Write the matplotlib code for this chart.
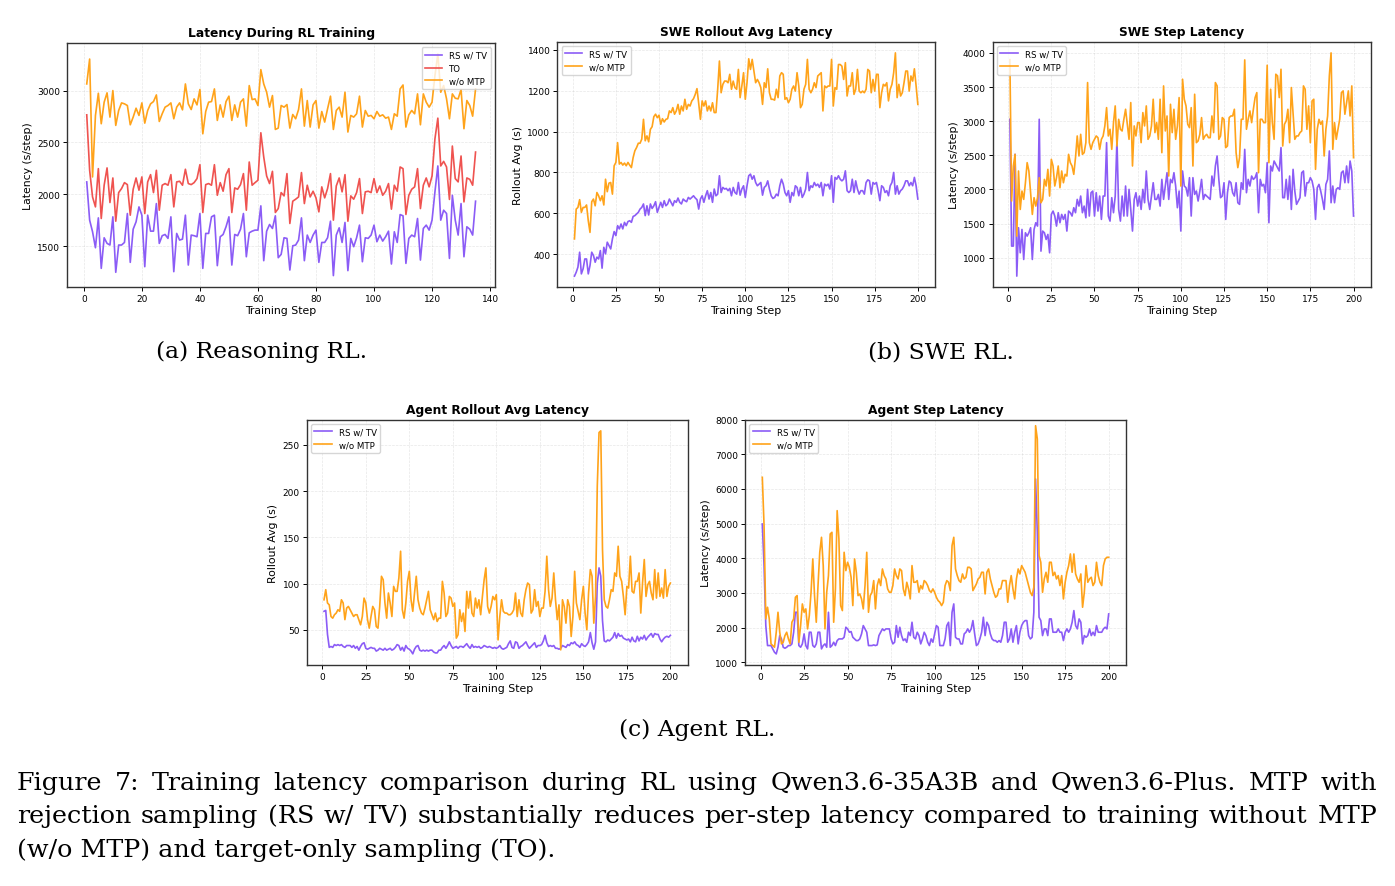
import matplotlib
matplotlib.use("Agg")
import matplotlib.pyplot as plt
from matplotlib.ticker import MultipleLocator
import numpy as np

FIG_W, FIG_H = 1395, 887

RS_COLOR = "#8B5CF6"
TO_COLOR = "#EF5350"
NOMTP_COLOR = "#FFA31A"

# (a) Reasoning RL, steps 1..135
reason_rs = [
    2119, 1750, 1638, 1484, 1772, 1285, 1580, 1526, 1510, 1782,
    1247, 1510, 1510, 1535, 1814, 1343, 1663, 1734, 1878, 1798,
    1301, 1798, 1644, 1644, 1910, 1526, 1600, 1612, 1574, 1782,
    1253, 1622, 1558, 1567, 1798, 1317, 1606, 1600, 1590, 1814,
    1285, 1622, 1622, 1782, 1798, 1311, 1590, 1612, 1686, 1782,
    1317, 1612, 1600, 1663, 1814, 1397, 1628, 1644, 1654, 1654,
    1888, 1359, 1644, 1708, 1670, 1792, 1388, 1420, 1580, 1574,
    1269, 1503, 1510, 1558, 1772, 1359, 1606, 1535, 1606, 1654,
    1343, 1535, 1535, 1580, 1740, 1215, 1606, 1676, 1535, 1728,
    1263, 1574, 1494, 1580, 1702, 1349, 1580, 1574, 1606, 1702,
    1542, 1606, 1548, 1590, 1644, 1327, 1638, 1535, 1804, 1792,
    1333, 1574, 1606, 1590, 1766, 1365, 1670, 1702, 1654, 1750,
    2023, 2273, 1750, 1846, 1814, 1381, 1990, 1750, 1606, 1910,
    1397, 1686, 1663, 1606, 1933,
]
reason_to = [
    2766, 2231, 1974, 1878, 2247, 1766, 2087, 2254, 1920, 2157,
    1740, 2016, 2055, 2112, 2093, 1798, 2048, 2157, 2039, 2167,
    1814, 2119, 2189, 2016, 2231, 1846, 2087, 2103, 2087, 2189,
    1878, 2119, 2125, 2087, 2241, 2103, 2093, 2112, 2151, 2285,
    1824, 2093, 2103, 2087, 2285, 1990, 2112, 2029, 2189, 2247,
    1824, 2061, 2048, 2093, 2199, 1846, 2311, 2087, 2112, 2135,
    2593, 2359, 2176, 2103, 2221, 1824, 1862, 2016, 1984, 2199,
    1718, 1933, 1952, 1974, 2209, 1910, 2087, 1974, 2029, 1965,
    1830, 2071, 1965, 2055, 2199, 1750, 2080, 2157, 2023, 2189,
    1740, 1984, 1952, 2016, 2151, 1814, 2023, 2029, 2016, 2151,
    2016, 2080, 1990, 2029, 2103, 1856, 2087, 2029, 2263, 2247,
    1805, 1990, 2048, 2071, 2247, 1862, 2087, 2157, 2071, 2176,
    2535, 2734, 2273, 2317, 2263, 1950, 2465, 2151, 2119, 2369,
    1926, 2157, 2144, 2087, 2407,
]
reason_nomtp = [
    3064, 3304, 2167, 2760, 2974, 2680, 2888, 2978, 2744, 3000,
    2664, 2808, 2881, 2872, 2856, 2670, 2744, 2830, 2760, 2881,
    2686, 2808, 2872, 2894, 2958, 2702, 2776, 2840, 2856, 2881,
    2728, 2840, 2881, 2814, 3064, 2872, 2817, 2920, 2862, 3010,
    2583, 2798, 2888, 2894, 3016, 2712, 2862, 2744, 2894, 2946,
    2712, 2862, 2744, 2888, 2920, 2657, 3048, 2913, 2920, 2856,
    3202, 3064, 2984, 2840, 2952, 2625, 2638, 2856, 2840, 2865,
    2638, 2769, 2728, 2817, 3016, 2657, 2904, 2648, 2862, 2904,
    2638, 2798, 2696, 2824, 2946, 2625, 2808, 2840, 2744, 2984,
    2600, 2760, 2744, 2776, 2946, 2648, 2808, 2753, 2760, 2728,
    2798, 2753, 2766, 2734, 2744, 2625, 2776, 2753, 3016, 3054,
    2648, 2766, 2808, 2776, 2968, 2670, 2968, 2888, 2840, 2888,
    3144, 3352, 2984, 3048, 2920, 2728, 2968, 2926, 2920, 3010,
    2632, 2904, 2856, 2753, 3016,
]

# (b) SWE RL rollout average latency, steps 1..200
swe_roll_rs = [
    293, 312, 337, 410, 304, 329, 377, 377, 304, 345,
    410, 394, 361, 386, 377, 418, 332, 434, 402, 459,
    442, 426, 475, 511, 491, 540, 524, 548, 524, 556,
    540, 560, 564, 556, 585, 589, 597, 605, 621, 629,
    646, 589, 637, 592, 646, 624, 637, 657, 605, 629,
    654, 629, 662, 637, 646, 670, 654, 637, 662, 654,
    675, 654, 646, 670, 662, 657, 678, 670, 678, 686,
    675, 667, 621, 670, 686, 654, 686, 711, 670, 702,
    654, 719, 686, 694, 784, 702, 727, 719, 722, 711,
    722, 686, 727, 702, 694, 751, 689, 719, 735,
    678, 735, 784, 792, 767, 784, 751, 735, 743, 751,
    689, 727, 735, 759, 719, 686,
    673, 678, 694, 686, 735, 767, 743, 702, 686, 711,
    654, 702, 686, 735, 727, 686, 727, 678, 694, 719,
    800, 711, 735, 727, 751, 735, 743, 727, 751, 686,
    743, 735, 743, 719, 784, 654, 776, 767, 784, 767,
    759, 767, 808, 711, 702, 711, 767, 702, 759, 719,
    694, 711,
    711, 694, 751, 764, 759, 694, 751, 743, 751,
    711, 662, 735, 727, 702, 711, 686, 735, 751, 800,
    694, 735, 694, 711, 719, 735, 759, 759, 735, 751,
    735, 776, 735, 670,
]
swe_roll_nomtp = [
    475, 621, 629, 667, 605, 629, 629, 641, 564, 507,
    657, 670, 637, 702, 686, 662, 686, 641, 767, 706,
    748, 751, 694, 833, 849, 946, 841, 849, 836, 846,
    833, 849, 836, 824, 873, 906, 922, 943, 943, 963,
    1060, 955, 979, 950, 1011, 1024, 1073, 1085, 1068, 1080,
    1036, 1063, 1047, 1060, 1063, 1101, 1093, 1117, 1085, 1101,
    1133, 1085, 1125, 1101, 1158, 1109, 1133, 1125, 1150, 1161,
    1182, 1210, 1138, 1060, 1150, 1125, 1150, 1101, 1125, 1101,
    1141, 1093, 1093, 1207, 1345, 1190, 1231, 1247, 1247, 1239,
    1280, 1207, 1247, 1215, 1207, 1304, 1166, 1223, 1288,
    1158, 1239, 1356, 1304, 1353, 1296, 1239, 1255, 1239, 1215,
    1133, 1239, 1215, 1307, 1190, 1158,
    1158, 1154, 1207, 1166, 1272, 1288, 1280, 1158, 1166, 1141,
    1158, 1207, 1223, 1198, 1288, 1223, 1117, 1133, 1207, 1231,
    1353, 1207, 1190, 1207, 1239, 1215, 1272, 1280, 1288, 1101,
    1223, 1215, 1223, 1223, 1353, 1125, 1215, 1207, 1328, 1328,
    1320, 1255, 1337, 1174, 1223, 1223, 1288, 1182, 1207, 1304,
    1198, 1190,
    1198, 1190, 1207, 1304, 1296, 1190, 1255, 1198, 1280,
    1280, 1117, 1190, 1231, 1223, 1239, 1150, 1207, 1231, 1288,
    1385, 1166, 1231, 1174, 1190, 1239, 1296, 1296, 1198, 1272,
    1247, 1307, 1223, 1133,
]

# (b) SWE RL step latency, steps 1..200
swe_step_rs = [
    3027, 1170, 1170, 2514, 730, 1439, 1072, 1414, 974, 1365,
    1316, 1365, 1439, 974, 1414, 1512, 1463, 3027, 1096, 1390,
    1365, 1267, 1341, 1072, 1634,
    1683, 1610, 1463, 1659, 1512, 1634, 1561, 1634, 1390, 1683,
    1659, 1610, 1732, 1659, 1854, 1756, 1903, 1659, 1756, 1585,
    2001, 1610, 1952,
    1976, 1610, 1952, 1683, 1903, 1561, 1903, 1903, 2685, 1610,
    1536, 1879, 1659, 1903, 2734, 1707, 1536, 1903, 1610, 2050,
    1610, 2001,
    1707, 1390, 1854, 1952, 1756, 1903, 1707, 2001, 1805, 2270,
    1854, 1707, 1903, 2098, 1854, 1854, 1927, 1756, 2147, 1854,
    2050, 2245, 1854, 2147,
    2098, 2245, 2050, 1732, 1976,
    1390, 2270, 2050, 2025, 1903, 2172, 1610, 2172, 1927, 1976,
    1830, 1976, 2147, 1854, 1927, 1903,
    1879, 1854, 2196, 2050, 2343, 2490, 2147, 1879, 1903, 2098,
    1561, 1952, 2123, 2098, 1952, 1903, 2098, 1805, 1781, 2098,
    2001, 2587, 1952, 2147, 2050, 2196, 2147, 2172, 2245, 1659,
    2147, 2050, 2074, 1952, 2392, 1512, 2343, 2270, 2416, 2367,
    2319, 2270, 2612, 1879, 1879, 2147, 1854, 2196, 1707, 2294,
    1976, 1781,
    1830, 1879, 2245, 2270, 1903, 2098, 2098, 2172, 2123,
    2001, 1561, 2025, 2074, 1976, 1854, 1707, 2074, 2147, 2563,
    1805, 2050, 1805, 2001, 2025, 2001, 2245, 2270, 2098, 2343,
    2098, 2416, 2270, 1610,
]
swe_step_nomtp = [
    3900, 1830, 2343, 2514, 1316, 2270, 1707, 1976, 1854, 2098,
    2392, 2270, 1952, 1634, 1879, 1756, 1879, 2172, 1805, 1854,
    2147, 2050, 2294, 1903, 2441,
    2343, 2050, 2172, 2343, 2025, 2270, 2098, 2221, 2196, 2514,
    2392, 2343, 2221, 2465, 2783, 2490, 2807, 2514, 2538, 2685,
    3565, 2685, 2587,
    2685, 2734, 2783, 2758, 2587, 2734, 2783, 2930, 3198, 2783,
    2881, 2587, 2978, 3223, 2636, 3027, 2881, 2856, 3027, 3174,
    2954, 2734,
    3272, 2343, 2930, 2783, 2978, 2978, 2685, 3125, 2930, 3223,
    2734, 2783, 2930, 3321, 2832, 2978, 2734, 3321, 2538, 3516,
    2856, 3076, 2196, 3247,
    2832, 3174, 2734, 2930, 3345,
    2050, 3614, 3321, 3223, 2954, 2905, 3198, 2343, 3394, 2685,
    2710, 2807, 3052, 2734, 2783, 2807,
    2758, 2758, 3076, 2832, 3565, 3516, 2734, 2783, 3052, 3027,
    2612, 2636, 3052, 3076, 3076, 3174, 2538, 2319, 2465, 3027,
    3027, 3897, 2881, 3027, 3150, 2978, 3174, 3345, 3418, 2245,
    3027, 3027, 2978, 2978, 3819, 2392, 3467, 2978, 2734, 3687,
    3663, 3345, 3760, 2636, 2954, 3003, 3174, 2685, 3492, 3101,
    2734, 2783,
    2783, 2832, 2856, 3516, 3467, 2881, 3223, 2685, 3296,
    3321, 2294, 2881, 3027, 2954, 3003, 2490, 2881, 3076, 3663,
    4000, 2587, 2978, 2734, 2881, 3027, 3418, 3443, 3101, 3272,
    3443, 3076, 3516, 2465,
]

# (c) Agent RL rollout average latency, steps 1..200
agent_roll_rs = [
    70, 71, 45, 31, 32, 31, 34, 33, 34, 33, 34, 32, 31, 33, 33, 33, 31, 33, 30, 32, 28, 32,
    35, 36, 30, 29, 30, 31, 30, 30, 27, 28, 30, 29, 28, 30, 28, 29, 30, 28, 29, 31, 34, 33, 28,
    31, 27, 33, 30, 29, 27, 24, 29, 32, 33, 28, 27, 28, 27, 28, 27, 28, 28, 26, 25, 25,
    28, 28, 31, 33, 30, 33, 37, 33, 30, 31, 32, 30, 32, 32, 31, 33, 35, 32, 30, 34, 31, 32,
    31, 32, 30, 31, 33, 32, 31, 32, 31, 30, 31, 30, 31, 33, 30, 29, 30, 31, 35, 38, 31, 30,
    37, 36, 30, 32, 33, 35, 37, 33, 30, 32, 34, 36, 31, 33, 33, 34, 38, 44, 36, 32, 33, 32,
    33, 30, 30, 29, 30, 33, 32, 31, 34, 33, 36, 35, 37, 34, 33, 31, 35, 33, 32, 34, 37, 47, 36, 29,
    37, 100, 117, 108, 60, 38, 37, 39, 38, 40, 42, 47, 41, 46, 43, 44, 41, 40, 39, 40, 37,
    42, 38, 37, 43, 38, 42, 40, 44, 39, 42, 44, 46, 42, 46, 45, 45, 40, 37, 40, 42, 43,
    42, 44,
]
agent_roll_nomtp = [
    82.5, 93.4, 79, 77, 64.4, 62.6, 66.3, 68.1, 71.7, 70, 82.5, 79, 61, 73.5, 75.3, 71.7,
    68.1, 64.4, 66.3, 66.3, 61, 55.4,
    64.4, 84.3, 79, 61, 51.8, 64.4, 75.3, 71.7, 53.6, 51.8, 75.3, 107.9, 104.2, 79, 62.6,
    89.8, 79, 64.4, 97, 91.6, 91.6, 106, 135,
    71.7, 62.6, 79, 102.4, 113.3, 82.5, 70, 89.8, 107.9, 82.5, 73.5, 68.1, 66.3, 73.5, 82.5,
    91.6, 71.7, 66.3, 61, 68.1, 59,
    62.6, 62.6, 102.4, 89.8, 64.4, 68.1, 86.1, 84.3, 75.3, 79, 41, 44.6, 71.7, 59, 68.1,
    48.2, 91.6, 73.5, 91.6, 68.1, 64.4, 84.3,
    73.5, 82.5, 66.3, 86.1, 104.2, 117, 75.3, 68.1, 75.3, 86.1, 82.5, 88, 39.1, 64.4, 82.5,
    70, 68.1, 68.1, 66.3, 66.3, 68.1, 71.7,
    89.8, 64.4, 82.5, 68.1, 64.4, 82.5, 93.4, 100.6, 98.8, 68.1, 71.7, 93.4, 75.3, 80.7, 64.4,
    73.5, 73.5, 91.6, 129.6, 93.4, 75.3, 84.3,
    111.5, 82.5, 61, 77, 28.3, 82.5, 75.3, 57.2, 82.5, 75.3, 42.8, 64.4, 113.3, 79, 70, 61,
    82.5, 97, 68.1, 50, 89.8, 115.1, 107.9, 57.2,
    86.1, 205.5, 263.4, 265.2, 136.8, 82.5, 75.3, 73.5, 82.5, 93.4, 91.6, 111.5, 107.9, 140.4,
    107.9, 102.4, 86.1, 66.3, 97, 95.2, 129.6,
    91.6, 89.8, 102.4, 102.4, 111.5, 68.1, 100.6, 126, 86.1, 98.8, 102.4, 89.8, 82.5, 115.1,
    84.3, 111.5, 86.1, 95.2, 84.3, 115.1, 86.1,
    97, 100.6,
]

# (c) Agent RL step latency, steps 1..200
agent_step_rs = [
    4990, 3789, 2058, 1481, 1481, 1481, 1385, 1288, 1240, 1433, 1769, 1673, 1433, 1404, 1433, 1481, 1481,
    1529, 1866, 2442, 2442, 1481, 1433, 1529, 1818, 1481, 1385, 1866, 1866, 1481, 1433, 1529, 1866,
    1866, 1385, 1481, 1529, 1433, 2442,
    1433, 1481, 1577, 1481, 1625, 1673, 1673, 1673, 1721, 2010, 1962, 1866, 1885, 1721, 1673, 1625,
    1625, 1673, 1818, 2058, 1962, 1866,
    1481, 1481, 1481, 1500, 1481, 1500, 1769, 1866, 1962, 1914, 1962, 1962, 1962, 1673, 1529, 1577,
    2058, 1721, 2010, 1769, 1625, 1673,
    1577, 1866, 1769, 2154, 1721, 1673, 1866, 1769, 1529, 1673, 1866, 1769, 1577, 1481, 1673, 1577,
    1818, 2058, 2010, 1481, 1481, 1481,
    1673, 2058, 2154, 1481, 2442, 2683, 1721, 1673, 1673, 1529, 1529, 1818, 1866, 1962, 1866, 1962,
    2202, 1818, 1481, 1529, 1673, 1866,
    2298, 1769, 2154, 2058, 1818, 1673, 1625, 1625, 1577, 1625, 1577, 1769, 2154, 2154, 1577, 1673,
    1962, 1577, 1866, 2058, 1529, 1866,
    2058, 2154, 2202, 2202, 1769, 1673, 1721, 2442, 6288, 4750, 2298, 2202, 1769, 1962, 1962, 1769,
    2250, 2250, 1866, 1866, 1866, 1962,
    1866, 1866, 1625, 1866, 1962, 1866, 1962, 2154, 2490, 2058, 1962, 2250, 2154, 1529, 1769, 1721,
    1769, 1962, 1769, 1866, 1769, 2058,
    1866, 1866, 1866, 1962, 2010, 1962, 2394,
]
agent_step_nomtp = [
    6337, 4942, 2250, 2587, 2250, 1529, 1481, 1433, 1866, 2442, 1866, 1529, 1577, 1769, 1866, 1673, 1529,
    2154, 2250, 2875, 2923, 1577, 2058, 2683, 2442, 2539, 1962, 2346, 3019, 3981, 2923, 2154, 3212,
    4173, 4606, 3789, 1962, 3019, 3500,
    4702, 4750, 2154, 3116, 5375, 4558, 2635, 2490, 4173, 3644, 3885, 3740, 3452, 2635, 3981, 3596,
    2923, 2971, 2827, 2539, 3212, 4173,
    2442, 2923, 3019, 3356, 2539, 3212, 3404, 3212, 3692, 3500, 3404, 3116, 3019, 3019, 3212, 3692,
    3500, 3404, 3692, 3644, 3116, 2923,
    3308, 3116, 2827, 3789, 3308, 3308, 3356, 3019, 3212, 3116, 3356, 3308, 3212, 3067, 3019, 3116,
    3019, 2875, 2779, 2731, 2635, 2731,
    3212, 3356, 3308, 3067, 4365, 4606, 3692, 3500, 3356, 3308, 3548, 3404, 3452, 3740, 3740, 3692,
    3067, 3164, 3260, 3404, 3452, 3596,
    3596, 2971, 3596, 3692, 3404, 3212, 3019, 2875, 2923, 3116, 3116, 3356, 3356, 3356, 2731, 3212,
    3500, 3116, 2827, 3404, 3692, 3548,
    3789, 3692, 3596, 3404, 3212, 3019, 2923, 3164, 7827, 7442, 4077, 3885, 3019, 3404, 3596, 3308,
    3885, 3885, 3500, 3596, 3404, 3500,
    3212, 3500, 2827, 3308, 3596, 3789, 4125, 3596, 4125, 3548, 3404, 3308, 3548, 2587, 3019, 3789,
    3308, 3404, 3452, 3212, 3308, 3885,
    3500, 3308, 3212, 3789, 3981, 4029, 4029,
]

SERIF = ["DejaVu Serif"]
CAP_SIZE = 18.3
SUB_SIZE = 16.8
CAP_LEFT, CAP_RIGHT = 17, 1377

caption_lines = [
    "Figure 7: Training latency comparison during RL using Qwen3.6-35A3B and Qwen3.6-Plus. MTP with",
    "rejection sampling (RS w/ TV) substantially reduces per-step latency compared to training without MTP",
    "(w/o MTP) and target-only sampling (TO).",
]
caption_baselines = [790, 823, 857]


def px_rect(x0, y0, x1, y1):
    return [x0 / FIG_W, 1 - y1 / FIG_H, (x1 - x0) / FIG_W, (y1 - y0) / FIG_H]


def style_axes(ax, title, ylabel, xstep):
    ax.set_title(title, fontsize=8.8, fontweight="bold", pad=5)
    ax.set_xlabel("Training Step", fontsize=7.8, labelpad=1.5)
    ax.set_ylabel(ylabel, fontsize=7.8, labelpad=3)
    ax.xaxis.set_major_locator(MultipleLocator(xstep))
    ax.tick_params(labelsize=6.5, length=3, width=0.7, pad=2)
    ax.grid(True, linestyle="--", linewidth=0.5, alpha=0.3)
    for sp in ax.spines.values():
        sp.set_color("#333333")
        sp.set_linewidth(1.0)


def plot_series(ax, series, loc):
    for label, values, color in series:
        steps = np.arange(1, len(values) + 1)
        ax.plot(steps, values, color=color, linewidth=1.2, label=label)
    ax.legend(loc=loc, fontsize=6.2, frameon=True, handlelength=2.0,
              borderpad=0.4, labelspacing=0.45, edgecolor="#cccccc")


def draw_caption(fig):
    renderer = fig.canvas.get_renderer()
    for i, (line, base) in enumerate(zip(caption_lines, caption_baselines)):
        y = 1 - base / FIG_H
        if i == len(caption_lines) - 1:
            fig.text(CAP_LEFT / FIG_W, y, line, fontsize=CAP_SIZE, family=SERIF, va="baseline")
            continue
        words = line.split(" ")
        texts = [fig.text(0, y, w, fontsize=CAP_SIZE, family=SERIF, va="baseline") for w in words]
        widths = [t.get_window_extent(renderer).width for t in texts]
        gap = (CAP_RIGHT - CAP_LEFT - sum(widths)) / (len(words) - 1)
        x = CAP_LEFT
        for t, w in zip(texts, widths):
            t.set_x(x / FIG_W)
            x += w + gap


fig = plt.figure(figsize=(FIG_W / 100, FIG_H / 100), dpi=100)

ax_a = fig.add_axes(px_rect(67.3, 44, 495, 287.7))
plot_series(ax_a, [("RS w/ TV", reason_rs, RS_COLOR), ("TO", reason_to, TO_COLOR),
                   ("w/o MTP", reason_nomtp, NOMTP_COLOR)], "upper right")
style_axes(ax_a, "Latency During RL Training", "Latency (s/step)", 20)

ax_b = fig.add_axes(px_rect(557.3, 42.7, 935, 288.3))
plot_series(ax_b, [("RS w/ TV", swe_roll_rs, RS_COLOR), ("w/o MTP", swe_roll_nomtp, NOMTP_COLOR)], "upper left")
style_axes(ax_b, "SWE Rollout Avg Latency", "Rollout Avg (s)", 25)

ax_c = fig.add_axes(px_rect(992.7, 42.7, 1370.7, 288.3))
plot_series(ax_c, [("RS w/ TV", swe_step_rs, RS_COLOR), ("w/o MTP", swe_step_nomtp, NOMTP_COLOR)], "upper left")
style_axes(ax_c, "SWE Step Latency", "Latency (s/step)", 25)

ax_d = fig.add_axes(px_rect(306.7, 420.7, 687.7, 666))
plot_series(ax_d, [("RS w/ TV", agent_roll_rs, RS_COLOR), ("w/o MTP", agent_roll_nomtp, NOMTP_COLOR)], "upper left")
style_axes(ax_d, "Agent Rollout Avg Latency", "Rollout Avg (s)", 25)

ax_e = fig.add_axes(px_rect(745, 420.7, 1126, 666))
plot_series(ax_e, [("RS w/ TV", agent_step_rs, RS_COLOR), ("w/o MTP", agent_step_nomtp, NOMTP_COLOR)], "upper left")
style_axes(ax_e, "Agent Step Latency", "Latency (s/step)", 25)
ax_e.set_ylim(920, 8000)

fig.text(261.5 / FIG_W, 1 - 358 / FIG_H, "(a) Reasoning RL.", fontsize=SUB_SIZE, family=SERIF,
         ha="center", va="baseline")
fig.text(940.5 / FIG_W, 1 - 358 / FIG_H, "(b) SWE RL.", fontsize=SUB_SIZE, family=SERIF,
         ha="center", va="baseline")
fig.text(697 / FIG_W, 1 - 736 / FIG_H, "(c) Agent RL.", fontsize=SUB_SIZE, family=SERIF,
         ha="center", va="baseline")

draw_caption(fig)

fig.savefig("out.png", dpi=100)
plt.close(fig)
